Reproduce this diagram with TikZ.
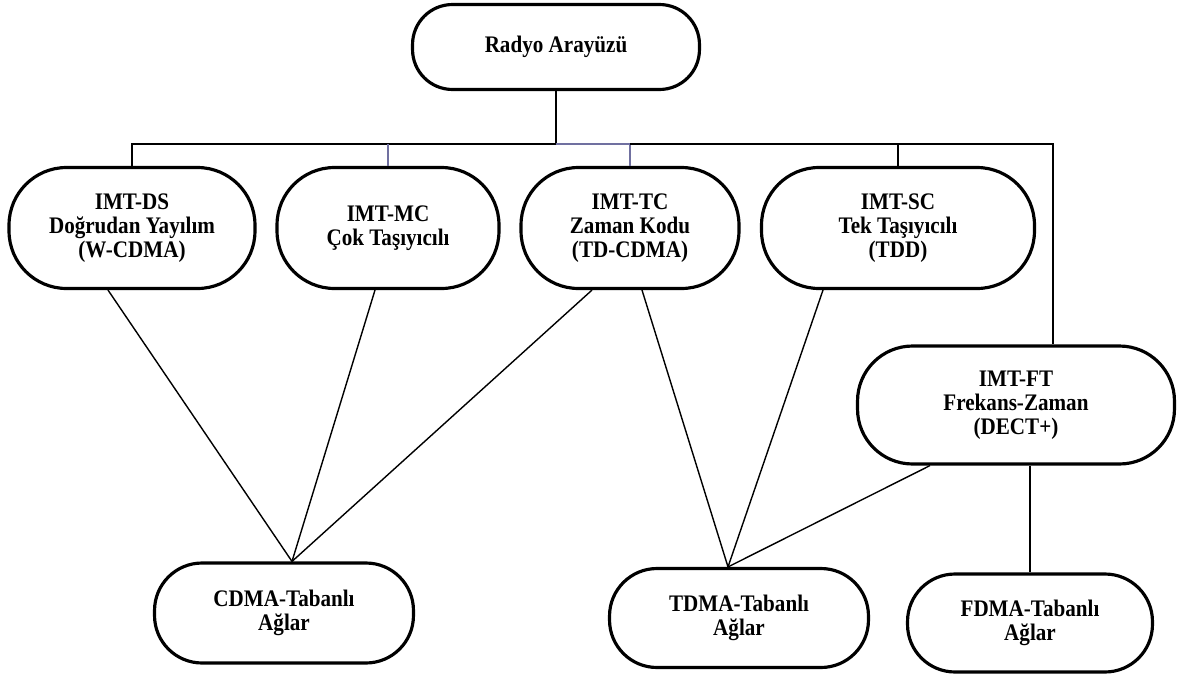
\documentclass[tikz,border=0pt]{standalone}
\usepackage{fontspec}
\setmainfont{Liberation Serif}[FakeStretch=0.89]
\usetikzlibrary{calc}
\tikzset{>=stealth}
\colorlet{lineColor}{black}
\definecolor{busColor}{RGB}{112,112,160}
\tikzset{
  netBox/.style={draw=lineColor, line width=1.8pt, align=center, inner sep=2pt,
    font=\fontsize{13.5}{13.8}\selectfont\bfseries},
  wire/.style={lineColor, line width=0.8pt},
  busWire/.style={busColor, line width=0.8pt}
}

\begin{document}
\begin{tikzpicture}[x=0.02cm, y=-0.02cm]
    \useasboundingbox (0,0) rectangle (1197,673);
    \node (radyo) at (556,47) [netBox, minimum width=5.74cm, minimum height=1.7cm, rounded corners=0.8cm] {Radyo Arayüzü};
    \node (ds) at (132,228) [netBox, minimum width=4.92cm, minimum height=2.42cm, rounded corners=1.15cm] {IMT-DS\\Doğrudan Yayılım\\(W-CDMA)};
    \node (mc) at (388,228) [netBox, minimum width=4.44cm, minimum height=2.42cm, rounded corners=1.15cm] {IMT-MC\\Çok Taşıyıcılı};
    \node (tc) at (630,228) [netBox, minimum width=4.36cm, minimum height=2.42cm, rounded corners=1.15cm] {IMT-TC\\Zaman Kodu\\(TD-CDMA)};
    \node (sc) at (898,228) [netBox, minimum width=5.46cm, minimum height=2.42cm, rounded corners=1.15cm] {IMT-SC\\Tek Taşıyıcılı\\(TDD)};
    \node (ft) at (1016,405) [netBox, minimum width=6.34cm, minimum height=2.36cm, rounded corners=1.1cm] {IMT-FT\\Frekans-Zaman\\(DECT+)};
    \node (cdma) at (284,613) [netBox, minimum width=5.18cm, minimum height=2cm, rounded corners=0.95cm] {CDMA-Tabanlı\\Ağlar};
    \node (tdma) at (739,618) [netBox, minimum width=5.18cm, minimum height=1.98cm, rounded corners=0.95cm] {TDMA-Tabanlı\\Ağlar};
    \node (fdma) at (1030,623) [netBox, minimum width=4.9cm, minimum height=1.96cm, rounded corners=0.95cm] {FDMA-Tabanlı\\Ağlar};
    % bus under the radio interface
    \coordinate (bus) at (556,144);
    \draw [wire] (radyo.south) -- (bus);
    \draw [wire] (ds.north) |- (bus);
    \draw [busWire] (bus) -- (tc.north |- bus);
    \draw [busWire] (mc.north) -- (mc.north |- bus);
    \draw [busWire] (tc.north) -- (tc.north |- bus);
    \draw [wire] (tc.north |- bus) -| ($(ft.north)+(37,0)$);
    \draw [wire] (sc.north) -- (sc.north |- bus);
    % links to the networks
    \draw [wire] ($(ds.south)+(-24,0)$) -- ($(cdma.north)+(8,0)$);
    \draw [wire] ($(mc.south)+(-13,0)$) -- ($(cdma.north)+(8,0)$);
    \draw [wire] ($(tc.south)+(-38,0)$) -- ($(cdma.north)+(8,0)$);
    \draw [wire] ($(tc.south)+(12,0)$) -- ($(tdma.north)+(-11,0)$);
    \draw [wire] ($(sc.south)+(-75,0)$) -- ($(tdma.north)+(-11,0)$);
    \draw [wire] ($(ft.south)+(-86,0)$) -- ($(tdma.north)+(-11,0)$);
    \draw [wire] ($(ft.south)+(14,0)$) -- (fdma.north);
\end{tikzpicture}
\end{document}
